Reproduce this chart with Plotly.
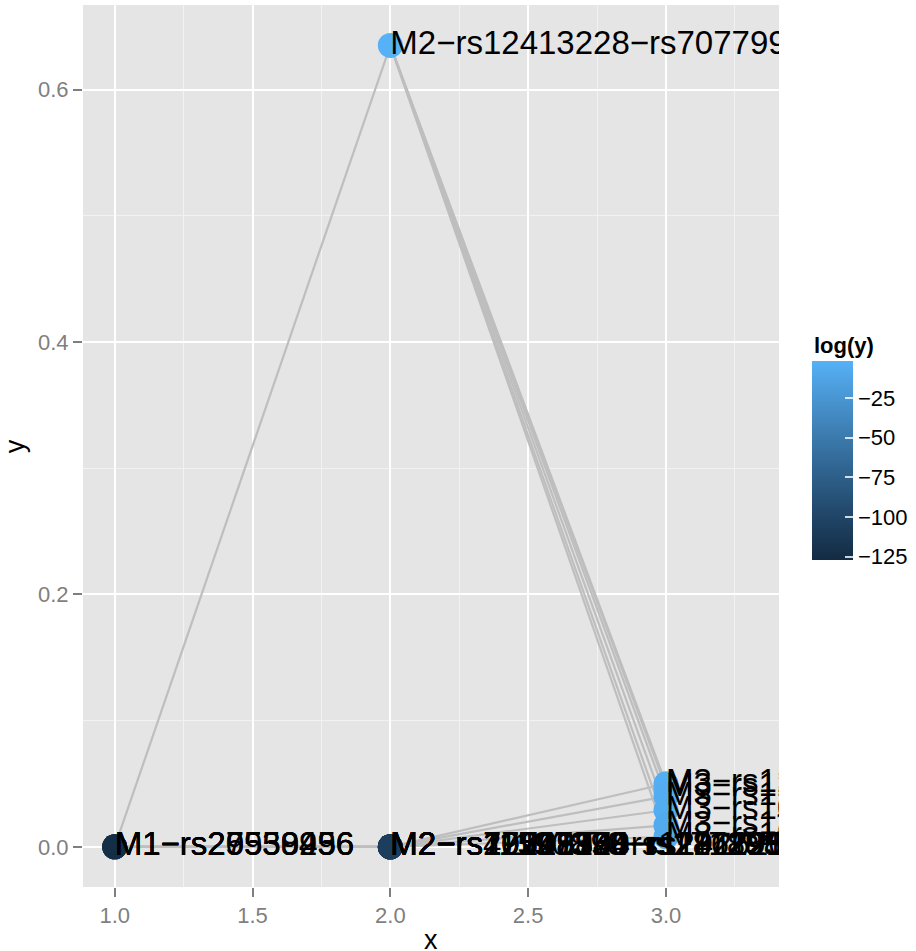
import numpy as np
import plotly.graph_objects as go

# ---------------- data ----------------
m1_labels = ["M1-rs27559236", "M1-rs20938456", "M1-rs29530496", "M1-rs25559956"]
m1_y = [2.1e-55, 4.9e-52, 1.3e-53, 3.7e-54]
m1_logy = [-127.5, -118.4, -121.8, -124.0]

m2_labels = [
    "M2-rs12413228-rs7077992",
    "M2-rs10509540-rs11188513",
    "M2-rs17125944",
    "M2-rs2296172-rs12411216-rs10883365",
    "M2-rs4074137",
    "M2-rs11597390-rs2862954",
    "M2-rs10748858-rs1926203",
    "M2-rs7921813",
    "M2-rs11190870-rs17729876-rs2274224",
]
m2_y = [0.635, 1.2e-50, 3.4e-47, 8.8e-52, 2.5e-45, 6.1e-49, 4.4e-44, 9.0e-53, 1.7e-48]
m2_logy = [-1.9, -114.9, -106.9, -118.5, -102.7, -110.9, -99.9, -119.8, -109.0]

m3_labels = ["M3-rs12778366", "M3-rs12413228", "M3-rs12244388",
             "M3-rs10883365", "M3-rs11190870", "M3-rs1926203"]
m3_y = [0.050, 0.047, 0.040, 0.029, 0.017, 0.008]
m3_logy = [-4.0, -4.6, -5.1, -5.9, -6.8, -7.9]

# edges: (parent index, child index)
edges_m1_m2 = [(0, 0), (0, 1), (1, 2), (2, 3), (3, 4), (0, 5), (1, 6), (2, 7), (3, 8)]
edges_m2_m3 = [(0, 0), (0, 1), (0, 2), (0, 3), (0, 4), (0, 5),
               (1, 0), (3, 2), (5, 3), (8, 4), (6, 5)]

colour_limits = [-127.5, -1.9]
colour_ticks = [-125, -100, -75, -50, -25]

# ---------------- helpers ----------------
def hex2rgb(h):
    h = h.lstrip("#")
    return np.array([int(h[i:i + 2], 16) / 255 for i in (0, 2, 4)])

_M = np.array([[0.4124, 0.3576, 0.1805], [0.2126, 0.7152, 0.0722], [0.0193, 0.1192, 0.9505]])
_W = np.array([0.95047, 1.0, 1.08883])

def rgb2lab(c):
    c = np.where(c > 0.04045, ((c + 0.055) / 1.055) ** 2.4, c / 12.92)
    xyz = _M @ c / _W
    f = np.where(xyz > 216 / 24389, np.cbrt(xyz), (24389 / 27 * xyz + 16) / 116)
    return np.array([116 * f[1] - 16, 500 * (f[0] - f[1]), 200 * (f[1] - f[2])])

def lab2hex(lab):
    L, a, b = lab
    fy = (L + 16) / 116
    f = np.array([fy + a / 500, fy, fy - b / 200])
    xyz = np.where(f ** 3 > 216 / 24389, f ** 3, (116 * f - 16) / (24389 / 27)) * _W
    c = np.linalg.inv(_M) @ xyz
    c = np.clip(c, 0, None)
    c = np.where(c > 0.0031308, 1.055 * c ** (1 / 2.4) - 0.055, 12.92 * c)
    c = np.clip(c, 0, 1)
    return "#%02x%02x%02x" % tuple(int(round(v * 255)) for v in c)

lo, hi = rgb2lab(hex2rgb("#132B43")), rgb2lab(hex2rgb("#56B1F7"))
colorscale = [[t, lab2hex(lo + (hi - lo) * t)] for t in np.linspace(0, 1, 11)]

# ---------------- assemble ----------------
ex, ey = [], []
for p, c in edges_m1_m2:
    ex += [1, 2, None]
    ey += [m1_y[p], m2_y[c], None]
for p, c in edges_m2_m3:
    ex += [2, 3, None]
    ey += [m2_y[p], m3_y[c], None]

all_x = [1] * len(m1_y) + [2] * len(m2_y) + [3] * len(m3_y)
all_y = m1_y + m2_y + m3_y
all_c = m1_logy + m2_logy + m3_logy
all_lab = [s.replace("-", "\u2212") for s in (m1_labels + m2_labels + m3_labels)]

FONT = "Liberation Sans, Arial, Helvetica, sans-serif"

fig = go.Figure()
fig.add_trace(go.Scatter(x=ex, y=ey, mode="lines",
                         line=dict(color="#BEBEBE", width=2.2),
                         hoverinfo="skip", showlegend=False))
fig.add_trace(go.Scatter(
    x=all_x, y=all_y, mode="markers", showlegend=False,
    marker=dict(size=25, color=all_c, colorscale=colorscale,
                cmin=colour_limits[0], cmax=colour_limits[1],
                line=dict(width=0),
                colorbar=dict(
                    thickness=41, thicknessmode="pixels",
                    len=199, lenmode="pixels",
                    x=1.0474, xanchor="left", xpad=0,
                    y=0.483, yanchor="middle", ypad=0,
                    tickvals=colour_ticks, ticks="inside", ticklen=8,
                    tickcolor="rgba(255,255,255,0.8)", tickwidth=1.5,
                    tickprefix="\u00a0",
                    tickfont=dict(size=22, color="black", family=FONT),
                    outlinewidth=0,
                ))))
fig.add_trace(go.Scatter(x=all_x, y=all_y, mode="text", text=all_lab,
                         textposition="middle right", cliponaxis=True,
                         textfont=dict(size=33, color="black", family=FONT),
                         hoverinfo="skip", showlegend=False))

axis_common = dict(
    showgrid=True, gridcolor="white", gridwidth=2,
    zeroline=False, showline=False,
    ticks="outside", ticklen=9, tickwidth=1.5, tickcolor="#7F7F7F",
    tickfont=dict(size=22, color="#7F7F7F", family=FONT),
    tickformat=".1f",
)
fig.update_layout(
    width=916, height=951,
    margin=dict(l=83, r=137, t=5, b=64, autoexpand=False),
    paper_bgcolor="white", plot_bgcolor="#E5E5E5",
    font=dict(family=FONT),
    xaxis=dict(range=[0.885, 3.41], tick0=1, dtick=0.5,
               minor=dict(tick0=1, dtick=0.25, showgrid=True, gridcolor="#F2F2F2",
                          gridwidth=1, ticks=""),
               **axis_common),
    yaxis=dict(range=[-0.0318, 0.667], tick0=0, dtick=0.2,
               minor=dict(tick0=0, dtick=0.1, showgrid=True, gridcolor="#F2F2F2",
                          gridwidth=1, ticks=""),
               **axis_common),
    annotations=[
        dict(text="x", xref="paper", yref="paper", x=0.5, y=-0.060,
             xanchor="center", yanchor="middle", showarrow=False,
             font=dict(size=27, color="black", family=FONT)),
        dict(text="y", xref="paper", yref="paper", x=-0.0975, y=0.5,
             xanchor="center", yanchor="middle", showarrow=False, textangle=-90,
             font=dict(size=27, color="black", family=FONT)),
        dict(text="<b>log(y)</b>", xref="paper", yref="paper", x=1.0474, y=0.6145,
             xanchor="left", yanchor="middle", showarrow=False,
             font=dict(size=22, color="black", family=FONT)),
    ],
)

fig.write_html("out.html", config={"displayModeBar": False},
               post_script="document.body.style.margin='0';")
